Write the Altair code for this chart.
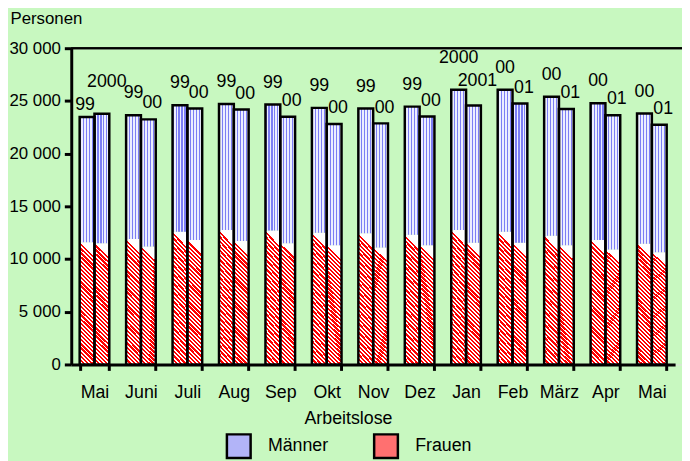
import altair as alt
import pandas as pd

months = ["Mai", "Juni", "Juli", "Aug", "Sep", "Okt", "Nov", "Dez", "Jan", "Feb", "März", "Apr", "Mai"]
year_a = ["99", "99", "99", "99", "99", "99", "99", "99", "2000", "00", "00", "00", "00"]
year_b = ["2000", "00", "00", "00", "00", "00", "00", "00", "2001", "01", "01", "01", "01"]
frauen_a = [11600, 11900, 12600, 12750, 12700, 12500, 12450, 12300, 12750, 12600, 12200, 11800, 11450]
frauen_b = [11500, 11200, 11800, 11700, 11500, 11300, 11100, 11300, 11550, 11550, 11300, 10900, 10650]
maenner_a = [11870, 11750, 11990, 11960, 11950, 11840, 11830, 12160, 13300, 13450, 13200, 12980, 12350]
maenner_b = [12280, 12050, 12480, 12480, 12000, 11500, 11770, 12230, 13010, 13200, 12940, 12750, 12090]
series = ["Männer", "Frauen"]
y_ticks = [0, 5000, 10000, 15000, 20000, 25000, 30000]

keys = [f"{i:02d}|{m}" for i, m in enumerate(months)]
rows = []
for i, k in enumerate(keys):
    la, lb = len(year_a[i]) > 2, len(year_b[i]) > 2
    # label placement class (style rule, derived from label lengths)
    ka = "a_long" if la else ("a_low" if lb else "a_short")
    kb = ("b_pair" if la else "b_long") if lb else "b_short"
    rows.append(dict(period=k, slot="a", year=year_a[i], frauen=frauen_a[i], maenner=maenner_a[i], kind=ka))
    rows.append(dict(period=k, slot="b", year=year_b[i], frauen=frauen_b[i], maenner=maenner_b[i], kind=kb))
df = pd.DataFrame(rows)
df["total"] = df["frauen"] + df["maenner"]
legend_df = pd.DataFrame({"Serie": series})

FONT = "Liberation Sans"
W, H = 618, 320
LABEL_STYLE = {
    "a_long": (-32, 0), "a_low": (-12, -2), "a_short": (-22, 0),
    "b_pair": (-25, 4), "b_long": (-32, 5), "b_short": (-16, 4),
}


def stripes(c1, c2, n, frac):
    stops = []
    for k in range(n):
        a = k / n
        b = (k + frac) / n
        c = min((k + 1) / n, 1.0)
        stops += [
            alt.GradientStop(offset=a, color=c1),
            alt.GradientStop(offset=b, color=c1),
            alt.GradientStop(offset=b, color=c2),
            alt.GradientStop(offset=c, color=c2),
        ]
    return stops


frauen_fill = alt.LinearGradient(gradient="linear", stops=stripes("#ff0000", "#ffffff", 30, 0.55),
                                 x1=0, y1=1, x2=0.12, y2=0)
maenner_fill = alt.LinearGradient(gradient="linear", stops=stripes("#7c7ef4", "#eceeff", 5, 0.38),
                                  x1=0, y1=0, x2=1, y2=0)

x_axis = alt.Axis(
    labelExpr="split(datum.value, '|')[1]", tickBand="extent", labelAngle=0,
    title="Arbeitslose", titleFontSize=18, titleFontWeight="normal", titleX=280, titleY=60,
    titleBaseline="alphabetic", titleAlign="center",
    labelFontSize=18, labelPadding=13, tickSize=6, tickWidth=3, domainWidth=3,
    domainColor="black", tickColor="black", labelColor="black", titleColor="black",
)
y_axis = alt.Axis(
    values=y_ticks, labelExpr="replace(format(datum.value, ','), ',', ' ')",
    title="Personen", titleAngle=0, titleX=-62, titleY=-25, titleAlign="left",
    titleBaseline="alphabetic", titleFontSize=17, titleFontWeight="normal",
    labelFontSize=17, labelPadding=4, tickSize=7, tickWidth=3, domainWidth=3,
    domainColor="black", tickColor="black", labelColor="black", titleColor="black", grid=False,
)
x_enc = alt.X("period:N", sort=keys, axis=x_axis,
              scale=alt.Scale(range=[0, 611], paddingInner=0.362, paddingOuter=0.181))
xo_enc = alt.XOffset("slot:N", scale=alt.Scale(paddingInner=0, paddingOuter=0))
y_scale = alt.Scale(domain=[0, 30000])

base = alt.Chart(df)

frauen = base.mark_bar(fill=frauen_fill).encode(
    x=x_enc, xOffset=xo_enc,
    y=alt.Y("frauen:Q", scale=y_scale, axis=y_axis),
)
maenner = base.mark_bar(fill=maenner_fill).encode(
    x=x_enc, xOffset=xo_enc,
    y=alt.Y("frauen:Q", scale=y_scale, axis=y_axis), y2="total:Q",
)
outline = base.mark_bar(fill="transparent", stroke="black", strokeWidth=2.5).encode(
    x=x_enc, xOffset=xo_enc,
    y=alt.Y("total:Q", scale=y_scale, axis=y_axis),
)


def labels(kind, dy, dx):
    return base.transform_filter(f"datum.kind == '{kind}'").mark_text(
        fontSize=18, font=FONT, color="black", dy=dy, dx=dx, baseline="middle"
    ).encode(
        x=x_enc, xOffset=xo_enc,
        y=alt.Y("total:Q", scale=y_scale, axis=y_axis),
        text="year:N",
    )


label_layers = [labels(k, dy, dx) for k, (dy, dx) in LABEL_STYLE.items()]

top_line = alt.Chart(legend_df).mark_rule(color="black", strokeWidth=2).encode(
    x=alt.value(0), x2=alt.value(W), y=alt.value(0)
)

legend_layer = alt.Chart(legend_df).mark_square(opacity=0).encode(
    color=alt.Color(
        "Serie:N",
        scale=alt.Scale(domain=series, range=["#b2b4f8", "#ff7070"]),
        legend=alt.Legend(
            title=None, orient="none", legendX=156, legendY=389, direction="horizontal",
            symbolType="square", symbolSize=576, symbolStrokeColor="black", symbolStrokeWidth=2.5,
            symbolOpacity=1, labelFontSize=18, labelOffset=16, columnPadding=40,
            labelColor="black", padding=0, labelFont=FONT,
        ),
    )
)

chart = alt.layer(
    frauen, maenner, outline, *label_layers, top_line, legend_layer,
).properties(
    width=W, height=H,
    autosize=alt.AutoSizeParams(type="none"),
    padding={"left": 64, "top": 38, "right": 0, "bottom": 95},
    background="#c8f8c0",
).configure_view(
    fill="white", stroke=None
).configure(
    font=FONT
)

chart.save("out.html", embed_options={"renderer": "svg", "actions": False})
